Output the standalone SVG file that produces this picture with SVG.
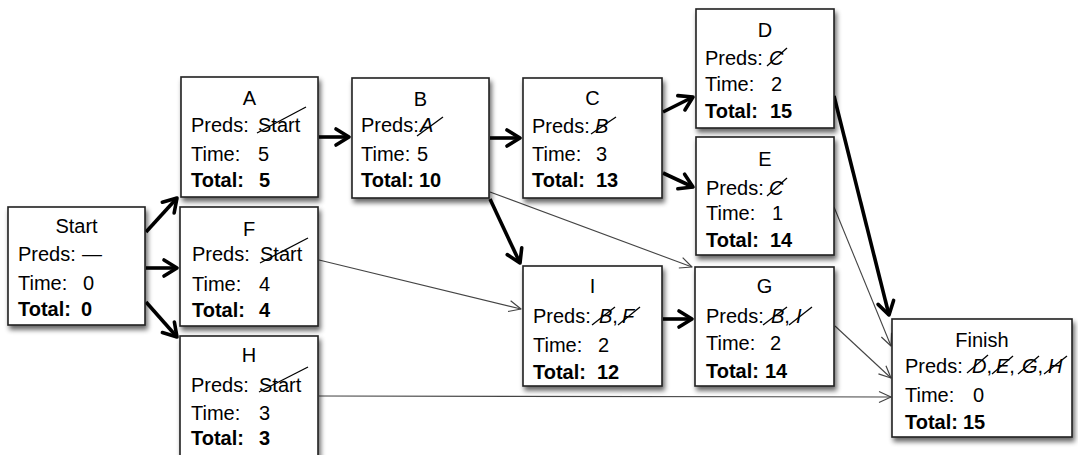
<svg xmlns="http://www.w3.org/2000/svg" width="1078" height="455" viewBox="0 0 1078 455">
<defs>
<filter id="sh" x="-10%" y="-10%" width="125%" height="130%">
<feGaussianBlur in="SourceAlpha" stdDeviation="2.8"/>
<feOffset dx="2" dy="3.5" result="b"/>
<feComponentTransfer><feFuncA type="linear" slope="0.6"/></feComponentTransfer>
<feMerge><feMergeNode/><feMergeNode in="SourceGraphic"/></feMerge>
</filter>
<marker id="ah" viewBox="-18 -12 22 24" markerWidth="22" markerHeight="24" refX="0" refY="0" orient="auto" markerUnits="userSpaceOnUse">
<path d="M-13,-8 L0,0 L-13,8" fill="none" stroke="#000" stroke-width="3.6" stroke-linejoin="round" stroke-linecap="round"/>
</marker>
<marker id="at" viewBox="-14 -8 16 16" markerWidth="16" markerHeight="16" refX="0" refY="0" orient="auto" markerUnits="userSpaceOnUse">
<path d="M-12,-5.5 L0,0 L-12,5.5" fill="none" stroke="#444" stroke-width="1.2" stroke-linejoin="round"/>
</marker>
</defs>
<style>
.box{fill:#fff;stroke:#222;stroke-width:1.6;filter:url(#sh)}
text{font-family:"Liberation Sans",Arial,Helvetica,sans-serif;font-size:20px;fill:#000}
.t{text-anchor:middle}
.b{font-weight:bold}
.i{font-style:italic}
.s{stroke:#000;stroke-width:1.3;fill:none}
.thick{stroke:#000;stroke-width:3.6;fill:none;marker-end:url(#ah)}
.thin{stroke:#444;stroke-width:1.1;fill:none;marker-end:url(#at)}
</style>
<rect width="1078" height="455" fill="#fff"/>
<g id="connectors">
<line class="thick" x1="146" y1="232" x2="177" y2="198"/>
<line class="thick" x1="146" y1="268" x2="177" y2="268"/>
<line class="thick" x1="146" y1="302" x2="177" y2="337"/>
<line class="thick" x1="319" y1="137" x2="349" y2="137"/>
<line class="thick" x1="490" y1="138" x2="520" y2="138"/>
<line class="thick" x1="663" y1="112" x2="693" y2="97"/>
<line class="thick" x1="663" y1="173" x2="693" y2="187"/>
<line class="thick" x1="490" y1="199" x2="520" y2="263"/>
<line class="thick" x1="663" y1="319" x2="692" y2="319"/>
<line class="thick" x1="834" y1="96" x2="889" y2="315"/>
<line class="thin" x1="490" y1="192" x2="692" y2="267"/>
<line class="thin" x1="319" y1="260" x2="521" y2="309"/>
<line class="thin" x1="319" y1="396" x2="891" y2="397"/>
<line class="thin" x1="834" y1="207" x2="891" y2="346"/>
<line class="thin" x1="835" y1="326" x2="891" y2="378"/>
</g>
<g id="start">
<rect class="box" x="8" y="207" width="137" height="118"/>
<text class="t" x="76.5" y="233">Start</text>
<text x="18" y="261">Preds:<tspan x="82">—</tspan></text>
<text x="18" y="290">Time:<tspan x="83">0</tspan></text>
<text class="b" x="18" y="316">Total:<tspan x="81">0</tspan></text>
</g>
<g id="A">
<rect class="box" x="181" y="77" width="137" height="120"/>
<text class="t" x="249.5" y="105">A</text>
<text x="191" y="132">Preds:<tspan x="258">Start</tspan></text>
<line class="s" x1="257" y1="133" x2="306" y2="107"/>
<text x="191" y="160.5">Time:<tspan x="258">5</tspan></text>
<text class="b" x="191" y="187">Total:<tspan x="259">5</tspan></text>
</g>
<g id="B">
<rect class="box" x="352" y="78" width="137" height="120"/>
<text class="t" x="420.5" y="106">B</text>
<text x="361" y="131.5">Preds:<tspan class="i" x="420">A</tspan></text>
<line class="s" x1="417" y1="136" x2="443" y2="117"/>
<text x="361" y="160.5">Time:<tspan x="417">5</tspan></text>
<text class="b" x="361" y="187">Total:<tspan x="419">10</tspan></text>
</g>
<g id="C">
<rect class="box" x="523" y="78" width="139" height="120"/>
<text class="t" x="592.5" y="105">C</text>
<text x="532" y="132.5">Preds:<tspan class="i" x="595">B</tspan></text>
<line class="s" x1="591" y1="134" x2="616" y2="117"/>
<text x="532" y="160.5">Time:<tspan x="596">3</tspan></text>
<text class="b" x="532" y="187">Total:<tspan x="596">13</tspan></text>
</g>
<g id="D">
<rect class="box" x="696" y="9" width="138" height="119"/>
<text class="t" x="765" y="37">D</text>
<text x="705" y="65">Preds:<tspan class="i" x="769">C</tspan></text>
<line class="s" x1="767" y1="66" x2="787" y2="48"/>
<text x="705" y="91">Time:<tspan x="771">2</tspan></text>
<text class="b" x="705" y="118">Total:<tspan x="770">15</tspan></text>
</g>
<g id="E">
<rect class="box" x="696" y="137" width="138" height="118"/>
<text class="t" x="765" y="166">E</text>
<text x="706" y="195">Preds:<tspan class="i" x="769">C</tspan></text>
<line class="s" x1="767" y1="196" x2="787" y2="178"/>
<text x="706" y="220">Time:<tspan x="772">1</tspan></text>
<text class="b" x="706" y="247">Total:<tspan x="770">14</tspan></text>
</g>
<g id="F">
<rect class="box" x="180" y="207" width="138" height="119"/>
<text class="t" x="249" y="236">F</text>
<text x="192" y="261">Preds:<tspan x="260">Start</tspan></text>
<line class="s" x1="260" y1="263" x2="308" y2="238"/>
<text x="192" y="290.5">Time:<tspan x="259">4</tspan></text>
<text class="b" x="192" y="316.5">Total:<tspan x="259">4</tspan></text>
</g>
<g id="H">
<rect class="box" x="180" y="336" width="138" height="122"/>
<text class="t" x="249" y="362">H</text>
<text x="191" y="391.5">Preds:<tspan x="259">Start</tspan></text>
<line class="s" x1="259" y1="392" x2="308" y2="367"/>
<text x="191" y="420">Time:<tspan x="259">3</tspan></text>
<text class="b" x="191" y="445">Total:<tspan x="259">3</tspan></text>
</g>
<g id="I">
<rect class="box" x="523" y="266" width="139" height="120"/>
<text class="t" x="592.5" y="293">I</text>
<text x="533" y="323">Preds:<tspan class="i" x="599">B</tspan>,<tspan class="i" x="622">F</tspan></text>
<line class="s" x1="592" y1="325" x2="615" y2="307"/>
<line class="s" x1="618" y1="325" x2="640" y2="307"/>
<text x="533" y="351.5">Time:<tspan x="598">2</tspan></text>
<text class="b" x="533" y="379">Total:<tspan x="597">12</tspan></text>
</g>
<g id="G">
<rect class="box" x="695" y="267" width="139" height="119"/>
<text class="t" x="764.5" y="293">G</text>
<text x="706" y="323">Preds:<tspan class="i" x="771">B</tspan>,<tspan class="i" x="796">I</tspan></text>
<line class="s" x1="763" y1="325" x2="787" y2="307"/>
<line class="s" x1="789" y1="325" x2="812" y2="307"/>
<text x="706" y="350">Time:<tspan x="770">2</tspan></text>
<text class="b" x="706" y="378">Total:<tspan x="765">14</tspan></text>
</g>
<g id="finish">
<rect class="box" x="892" y="319" width="180" height="118"/>
<text class="t" x="982" y="346.5">Finish</text>
<text x="905" y="372.5">Preds:<tspan class="i" x="972">D</tspan>,<tspan class="i" x="996">E</tspan>,<tspan class="i" x="1022">G</tspan>,<tspan class="i" x="1048">H</tspan></text>
<line class="s" x1="967" y1="373" x2="988" y2="355"/>
<line class="s" x1="992" y1="374" x2="1013" y2="356"/>
<line class="s" x1="1018" y1="374" x2="1039" y2="356"/>
<line class="s" x1="1044" y1="374" x2="1067" y2="356"/>
<text x="905" y="401.5">Time:<tspan x="973">0</tspan></text>
<text class="b" x="905" y="429">Total:<tspan x="963">15</tspan></text>
</g>
</svg>
